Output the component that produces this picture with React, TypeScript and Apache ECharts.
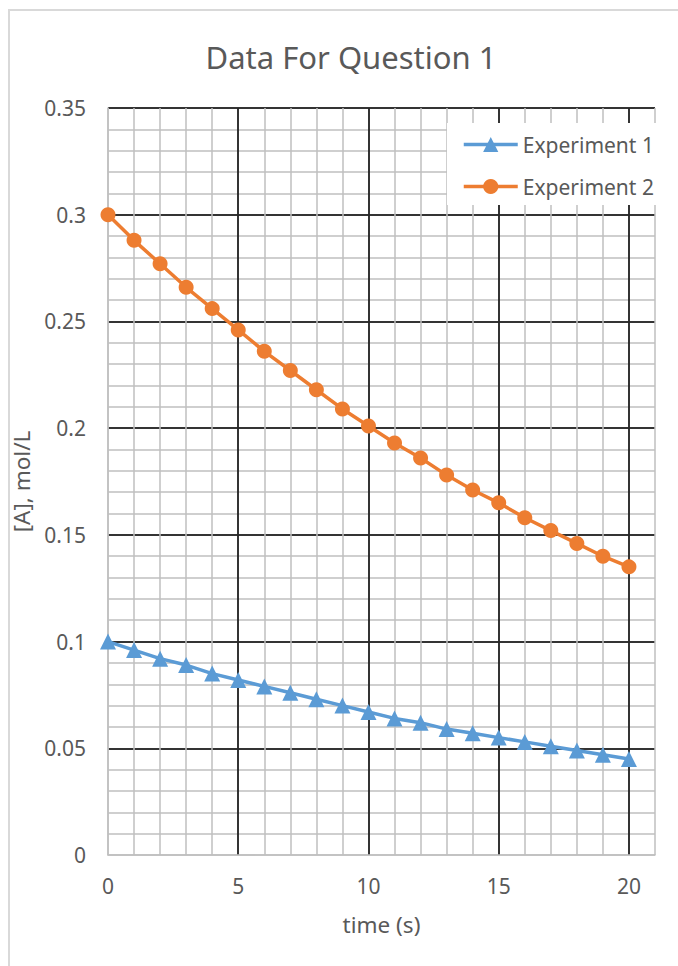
import React, { useEffect, useRef } from "react";
import * as echarts from "echarts";

const times = [0, 1, 2, 3, 4, 5, 6, 7, 8, 9, 10, 11, 12, 13, 14, 15, 16, 17, 18, 19, 20];
const experiment1 = [0.1, 0.096, 0.092, 0.089, 0.085, 0.082, 0.079, 0.076, 0.073, 0.070, 0.067, 0.064, 0.062, 0.059, 0.057, 0.055, 0.053, 0.051, 0.049, 0.047, 0.045];
const experiment2 = [0.3, 0.288, 0.277, 0.266, 0.256, 0.246, 0.236, 0.227, 0.218, 0.209, 0.201, 0.193, 0.186, 0.178, 0.171, 0.165, 0.158, 0.152, 0.146, 0.140, 0.135];
const xTickLabels = ["0", "5", "10", "15", "20"];
const seriesNames = ["Experiment 1", "Experiment 2"];

const FONT = "Noto Sans";
const TEXT = "#595959";
const MINOR = "#bfbfbf";
const MAJOR = "#000000";

export default function App() {
  const ref = useRef<HTMLDivElement>(null);
  useEffect(() => {
    document.body.style.margin = "0";
    if (!ref.current) return;
    const chart = echarts.init(ref.current, undefined, { renderer: "svg" });
    chart.setOption({
      animation: false,
      backgroundColor: "#ffffff",
      textStyle: { fontFamily: FONT },
      title: {
        text: "Data For Question 1",
        left: 346,
        top: 36,
        textAlign: "center",
        textStyle: { fontFamily: FONT, fontSize: 31, fontWeight: "normal", color: TEXT },
      },
      graphic: [
        {
          type: "rect",
          silent: true,
          z: -10,
          shape: { x: 9, y: 10, width: 900, height: 1200 },
          style: { fill: "none", stroke: "#d9d9d9", lineWidth: 2 },
        },
      ],
      legend: {
        orient: "vertical",
        left: 447,
        top: 123,
        padding: [11, 6, 8, 15],
        itemGap: 21,
        itemWidth: 54,
        itemHeight: 19,
        itemTextGap: 5,
        backgroundColor: "#ffffff",
        data: seriesNames,
        lineStyle: { width: 3.5 },
        textStyle: { fontFamily: FONT, fontSize: 21, color: TEXT },
      },
      grid: { left: 108, top: 108, width: 547, height: 747, containLabel: false },
      xAxis: [
        {
          type: "value",
          position: "bottom",
          min: 0,
          max: 21,
          interval: 1,
          axisLabel: { show: false },
          axisLine: { show: false },
          axisTick: { show: false },
          splitLine: { show: true, lineStyle: { color: MINOR, width: 1.5 } },
        },
        {
          type: "value",
          position: "bottom",
          min: 0,
          max: 21,
          interval: 5,
          name: "time (s)",
          nameLocation: "middle",
          nameGap: 58,
          nameTextStyle: { fontFamily: FONT, fontSize: 22.5, color: TEXT },
          axisLabel: {
            margin: 20,
            fontSize: 21,
            color: TEXT,
            fontFamily: FONT,
            formatter: (v: number) => (xTickLabels.includes(String(v)) ? String(v) : ""),
          },
          axisLine: { show: true, lineStyle: { color: MINOR, width: 1.5 } },
          axisTick: { show: false },
          splitLine: { show: true, showMinLine: false, showMaxLine: false, lineStyle: { color: MAJOR, width: 1.5 } },
        },
      ],
      yAxis: [
        {
          type: "value",
          position: "left",
          min: 0,
          max: 0.35,
          interval: 0.01,
          axisLabel: { show: false },
          axisLine: { show: false },
          axisTick: { show: false },
          splitLine: { show: true, lineStyle: { color: MINOR, width: 1.5 } },
        },
        {
          type: "value",
          position: "left",
          min: 0,
          max: 0.35,
          interval: 0.05,
          name: "[A], mol/L",
          nameLocation: "middle",
          nameGap: 64,
          nameTextStyle: { fontFamily: FONT, fontSize: 22.5, color: TEXT },
          axisLabel: { margin: 22, fontSize: 21, color: TEXT, fontFamily: FONT },
          axisLine: { show: true, lineStyle: { color: MINOR, width: 1.5 } },
          axisTick: { show: false },
          splitLine: { show: true, showMinLine: false, lineStyle: { color: MAJOR, width: 1.5 } },
        },
      ],
      series: [
        {
          name: seriesNames[0],
          type: "line",
          xAxisIndex: 1,
          yAxisIndex: 1,
          data: times.map((t, i) => [t, experiment1[i]]),
          symbol: "triangle",
          symbolSize: 16,
          color: "#5B9BD5",
          lineStyle: { width: 3.5, color: "#5B9BD5" },
          itemStyle: { color: "#5B9BD5" },
        },
        {
          name: seriesNames[1],
          type: "line",
          xAxisIndex: 1,
          yAxisIndex: 1,
          data: times.map((t, i) => [t, experiment2[i]]),
          symbol: "circle",
          symbolSize: 15,
          color: "#ED7D31",
          lineStyle: { width: 3.5, color: "#ED7D31" },
          itemStyle: { color: "#ED7D31" },
        },
      ],
    });
    return () => chart.dispose();
  }, []);
  return <div ref={ref} style={{ width: 678, height: 966 }} />;
}
